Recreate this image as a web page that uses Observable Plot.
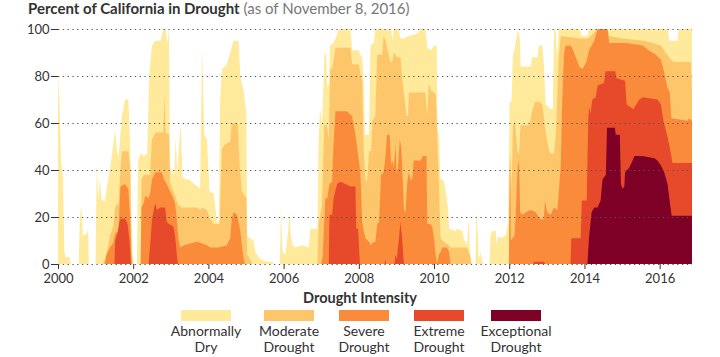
<!DOCTYPE html>
<html><head><meta charset="utf-8">
<script src="https://cdn.jsdelivr.net/npm/d3@7"></script>
<script src="https://cdn.jsdelivr.net/npm/@observablehq/plot@0.6"></script>
<style>
body{margin:0;background:#fff;font-family:Lato,"Noto Sans",sans-serif;color:#333;}
#wrap{position:relative;width:720px;height:357px;overflow:hidden;}
#title{position:absolute;left:28px;top:0;font-size:15px;line-height:17px;white-space:nowrap;}
#title b{font-weight:700;color:#333}
#title span{color:#777;font-weight:400}
#chart{position:absolute;left:0;top:20px;}
#legend{position:absolute;left:0;top:285px;width:720px;height:72px;}
#legend .lt{position:absolute;left:0;width:720px;top:5px;text-align:center;font-size:14.5px;font-weight:700;line-height:16px;color:#333;}
#legend .item{position:absolute;top:25px;width:100px;text-align:center;}
#legend .sw{width:50px;height:11px;margin:0 auto;}
#legend .lab{margin-top:2px;font-size:14px;line-height:16px;color:#333;}
</style></head>
<body><div id="wrap">
<div id="title"><b>Percent of California in Drought</b> <span>(as of November 8, 2016)</span></div>
<div id="chart"></div>
<div id="legend"></div>
</div>
<script>
// ---- data: [decimal year, percent of California] ----
const abnormallyDry = [[2000.00,80],[2000.04,68],[2000.08,44],[2000.13,37],[2000.17,5],[2000.20,3],[2000.30,3],[2000.34,0],
[2000.55,0],[2000.58,19],[2000.62,25],[2000.66,12],[2000.77,13],[2000.80,15],[2000.82,0],
[2001.00,0],[2001.03,43],[2001.07,27],[2001.11,36],[2001.16,27],[2001.25,27],[2001.31,34],[2001.38,40],[2001.47,51],[2001.52,57],[2001.56,49],[2001.61,45],[2001.70,63],[2001.74,66],[2001.78,70],[2001.87,70],[2001.92,50],[2001.97,5],[2002.01,0],
[2002.10,0],[2002.13,44],[2002.19,47],[2002.28,46],[2002.37,47],[2002.43,81],[2002.50,93],[2002.59,95],[2002.73,95],[2002.80,100],[2002.86,100],[2002.91,94],[2002.95,100],[2002.98,41],[2003.09,38],[2003.13,54],[2003.17,38],[2003.26,60],[2003.31,37],[2003.40,36],[2003.49,36],[2003.62,34],[2003.71,33],[2003.78,32],[2003.83,92],[2003.89,55],[2003.96,53],[2004.03,31],[2004.14,30],[2004.18,25],[2004.22,18],[2004.28,18],[2004.31,68],[2004.36,83],[2004.49,85],[2004.58,90],[2004.67,95],[2004.80,95],[2004.85,80],[2004.94,73],[2005.01,64],[2005.03,12],[2005.11,11],[2005.20,10],[2005.25,5],[2005.29,4],[2005.38,2],[2005.56,1],[2005.70,1],[2005.74,0],
[2005.90,0],[2005.93,24],[2005.97,5],[2006.05,4],[2006.12,14],[2006.16,22],[2006.19,12],[2006.24,8],[2006.31,7],[2006.49,8],[2006.67,7],[2006.71,15],[2006.90,15],[2006.93,53],[2006.97,66],[2007.02,59],[2007.06,76],[2007.09,90],[2007.13,89],[2007.16,75],[2007.21,77],[2007.23,93],[2007.33,94],[2007.38,96],[2007.47,100],[2007.78,100],[2007.82,91],[2008.00,91],[2008.04,89],[2008.09,88],[2008.13,78],[2008.16,55],[2008.27,55],[2008.31,93],[2008.40,94],[2008.44,100],[2008.86,100],[2008.89,95],[2008.93,100],[2009.06,100],[2009.11,96],[2009.20,96],[2009.33,97],[2009.55,98],[2009.64,100],[2009.77,100],[2009.82,92],[2009.91,91],[2010.00,93],[2010.07,93],[2010.09,58],[2010.13,55],[2010.17,36],[2010.25,36],[2010.30,32],[2010.37,24],[2010.40,15],[2010.57,14],[2010.62,15],[2010.75,14],[2010.79,11],[2010.88,8],[2010.92,20],[2010.95,5],[2011.00,0],
[2011.10,0],[2011.13,22],[2011.15,18],[2011.19,2],[2011.24,5],[2011.28,1],[2011.33,0],
[2011.48,0],[2011.50,12],[2011.55,14],[2011.64,14],[2011.66,8],[2011.70,12],[2011.77,11],[2011.90,12],[2011.97,17],[2012.01,69],[2012.06,69],[2012.10,89],[2012.15,92],[2012.19,96],[2012.23,100],[2012.28,96],[2012.30,84],[2012.57,84],[2012.61,88],[2012.75,88],[2012.79,93],[2012.88,93],[2012.92,85],[2012.97,68],[2013.04,67],[2013.08,66],[2013.16,66],[2013.19,100],[2013.23,100],[2013.27,88],[2013.32,100],[2013.88,100],[2013.92,97],[2014.08,97],[2014.12,100],[2016.22,100],[2016.25,95],[2016.48,95],[2016.50,100],[2016.86,100]];

const moderateDrought = [[2001.20,0],[2001.25,2],[2001.29,4],[2001.38,12],[2001.47,16],[2001.52,24],[2001.61,26],[2001.66,40],[2001.70,48],[2001.87,48],[2001.92,41],[2001.96,3],[2001.99,0],
[2002.20,0],[2002.22,36],[2002.28,38],[2002.45,38],[2002.50,53],[2002.59,56],[2002.80,56],[2002.83,72],[2002.86,56],[2002.95,55],[2002.98,35],[2003.04,32],[2003.12,29],[2003.20,25],[2003.30,24],[2003.70,24],[2003.78,23],[2003.83,24],[2003.96,23],[2004.05,19],[2004.14,17],[2004.30,17],[2004.36,49],[2004.45,51],[2004.58,52],[2004.62,60],[2004.78,60],[2004.83,42],[2004.89,31],[2005.01,28],[2005.03,4],[2005.11,2],[2005.16,0],
[2006.90,0],[2006.93,17],[2007.02,25],[2007.08,59],[2007.15,59],[2007.20,53],[2007.24,83],[2007.29,83],[2007.38,92],[2007.78,92],[2007.82,85],[2008.00,85],[2008.05,80],[2008.09,78],[2008.13,48],[2008.18,36],[2008.22,35],[2008.27,48],[2008.33,48],[2008.36,61],[2008.44,63],[2008.49,89],[2008.62,89],[2008.66,97],[2008.71,95],[2008.84,86],[2008.89,86],[2008.93,90],[2009.02,88],[2009.11,88],[2009.15,80],[2009.20,72],[2009.27,63],[2009.31,63],[2009.33,73],[2009.77,73],[2009.82,63],[2009.86,77],[2009.91,74],[2010.00,73],[2010.05,72],[2010.08,56],[2010.13,34],[2010.17,11],[2010.26,9.5],[2010.40,8],[2010.44,7],[2010.88,7],[2010.95,4],[2011.00,0],
[2011.99,0],[2012.02,48],[2012.06,31],[2012.10,59],[2012.15,61],[2012.22,48],[2012.26,47],[2012.30,59],[2012.53,59],[2012.61,65],[2012.69,69],[2012.79,69],[2012.88,68],[2012.97,56],[2013.06,48],[2013.10,47],[2013.19,47],[2013.24,55],[2013.28,73],[2013.32,88],[2013.37,97],[2013.90,96],[2014.10,96],[2014.30,99],[2014.39,100],[2014.61,100],[2014.66,97],[2015.00,96],[2015.59,95],[2015.81,94],[2016.03,93],[2016.12,91],[2016.20,89],[2016.30,87],[2016.39,86],[2016.83,86],[2016.86,73]];

const severeDrought = [[2001.24,0],[2001.29,4],[2001.38,7],[2001.47,9],[2001.52,13],[2001.61,14],[2001.66,33],[2001.78,34],[2001.87,32],[2001.92,19],[2001.96,0],
[2002.20,0],[2002.22,24],[2002.28,26],[2002.32,29],[2002.41,28],[2002.46,31],[2002.50,36],[2002.59,39],[2002.76,39],[2002.82,36],[2002.89,34],[2002.98,31],[2003.07,28],[2003.12,25],[2003.16,19],[2003.20,11],[2003.25,7],[2003.35,8],[2003.60,9],[2003.69,9.5],[2003.78,9],[2003.96,8],[2004.05,7],[2004.27,7],[2004.49,8],[2004.58,11],[2004.62,19],[2004.67,22],[2004.76,21],[2004.85,14],[2004.89,8],[2004.94,2],[2004.97,0],
[2007.00,0],[2007.04,3],[2007.07,15],[2007.11,28],[2007.16,28],[2007.22,34],[2007.29,35],[2007.33,52],[2007.38,65],[2007.69,65],[2007.74,64],[2007.82,63],[2007.91,55],[2008.04,39],[2008.09,18],[2008.13,14],[2008.18,11],[2008.27,9.5],[2008.32,8],[2008.36,9],[2008.44,9.5],[2008.49,17],[2008.54,18],[2008.59,38],[2008.66,39],[2008.71,46],[2008.75,55],[2008.82,55],[2008.86,42],[2008.89,44],[2008.93,41],[2008.98,51],[2009.00,39],[2009.04,41],[2009.09,53],[2009.13,49],[2009.17,35],[2009.20,23],[2009.24,22],[2009.29,35],[2009.33,39],[2009.37,36],[2009.42,36],[2009.46,44],[2009.64,44],[2009.70,46],[2009.80,46],[2009.82,17],[2009.90,17],[2009.95,16],[2010.00,11],[2010.04,4],[2010.08,0],[2010.13,4],[2010.17,5],[2010.22,7],[2010.35,7],[2010.40,5],[2010.44,0],
[2011.99,0],[2012.02,46],[2012.04,10],[2012.14,12],[2012.17,20],[2012.22,40],[2012.26,44],[2012.29,22],[2012.35,21],[2012.44,22],[2012.57,23],[2012.70,22],[2012.79,20],[2012.84,19],[2012.92,19],[2012.95,27],[2013.01,22],[2013.10,21],[2013.19,24],[2013.28,23],[2013.32,31],[2013.37,42],[2013.41,70],[2013.46,90],[2013.50,93],[2013.63,93],[2013.70,91],[2013.77,88],[2013.86,84],[2013.95,83],[2014.05,86],[2014.12,91],[2014.26,95],[2014.35,100],[2014.61,100],[2014.66,94],[2015.10,94],[2015.55,93],[2015.70,91],[2015.90,89],[2016.03,87],[2016.10,83],[2016.21,75],[2016.27,73],[2016.31,62],[2016.74,61],[2016.78,62],[2016.86,61]];

const extremeDrought = [[2001.50,0],[2001.52,10],[2001.58,13],[2001.65,19],[2001.78,19.5],[2001.85,17],[2001.90,10],[2001.94,0],
[2002.41,0],[2002.46,10],[2002.50,19],[2002.56,24],[2002.59,26],[2002.63,23],[2002.72,24],[2002.85,24],[2002.89,18],[2002.95,17],[2003.07,16],[2003.12,11],[2003.16,4],[2003.19,0],
[2007.20,0],[2007.22,21],[2007.29,21],[2007.33,28],[2007.42,34],[2007.51,35],[2007.64,34],[2007.78,33],[2007.91,33],[2007.93,15],[2007.98,15],[2008.03,0],
[2008.68,0],[2008.70,2],[2008.72,0],[2008.95,0],[2008.97,4],[2009.01,2],[2009.06,10],[2009.11,18],[2009.15,11],[2009.20,0],
[2012.64,0],[2012.66,1],[2012.93,1],[2012.95,0],
[2013.63,0],[2013.65,11],[2013.90,11],[2013.93,27],[2014.06,27],[2014.10,61],[2014.12,67],[2014.16,64],[2014.21,70],[2014.30,71],[2014.35,76],[2014.52,77],[2014.56,82],[2014.82,82],[2014.85,79],[2015.08,78],[2015.12,68],[2015.20,67],[2015.30,66],[2015.46,70],[2015.55,71],[2015.94,70],[2016.03,68],[2016.10,61],[2016.21,54],[2016.30,47],[2016.34,43],[2016.86,43]];

const exceptionalDrought = [[2014.08,0],[2014.12,11],[2014.19,22],[2014.26,24],[2014.35,24],[2014.43,27],[2014.48,36],[2014.57,38],[2014.60,58],[2014.81,58],[2014.83,55],[2014.94,55],[2014.97,34],[2015.01,32],[2015.06,33],[2015.08,39],[2015.19,41],[2015.28,44],[2015.33,46],[2015.54,46],[2015.86,45],[2015.94,44],[2016.03,42],[2016.12,39],[2016.21,34],[2016.28,25],[2016.32,20.5],[2016.86,20.5]];

const categoryNames = [["Abnormally","Dry"],["Moderate","Drought"],["Severe","Drought"],["Extreme","Drought"],["Exceptional","Drought"]];
const categoryColors = ["#ffe99b","#fec66b","#fa8b3b","#e64a2a","#7f0026"];
const xTicks = [2000,2002,2004,2006,2008,2010,2012,2014,2016];
const yTicks = [0,20,40,60,80,100];

// ---- chart ----
const seriesList = [abnormallyDry, moderateDrought, severeDrought, extremeDrought, exceptionalDrought];
const font = 'Lato, "Noto Sans", sans-serif';
const chart = Plot.plot({
  width: 720, height: 265,
  marginTop: 9, marginBottom: 21, marginLeft: 58, marginRight: 28,
  style: {fontFamily: font, fontSize: "13px", color: "#333", background: "transparent", overflow: "visible"},
  x: {domain: [2000, 2016.86], ticks: xTicks, tickFormat: d => String(d), tickSize: 5, tickPadding: 4, label: null},
  y: {domain: [0, 100], ticks: yTicks, tickSize: 7, tickPadding: 2, label: null},
  marks: [
    ...seriesList.map((s, i) => Plot.areaY(s, {x: d => d[0], y: d => d[1], fill: categoryColors[i], curve: "linear"})),
    Plot.ruleY(yTicks, {stroke: "#555", strokeWidth: 1.1, strokeDasharray: "1.3,3.5"})
  ]
});
document.getElementById("chart").appendChild(chart);

// ---- legend ----
const legendCenters = [206, 289, 364, 439, 516];
const lg = document.getElementById("legend");
const lt = document.createElement("div"); lt.className = "lt"; lt.textContent = "Drought Intensity"; lg.appendChild(lt);
categoryNames.forEach((nm, i) => {
  const it = document.createElement("div"); it.className = "item";
  it.style.left = (legendCenters[i] - 50) + "px";
  const sw = document.createElement("div"); sw.className = "sw"; sw.style.background = categoryColors[i];
  const lab = document.createElement("div"); lab.className = "lab"; lab.innerHTML = nm[0] + "<br>" + nm[1];
  it.appendChild(sw); it.appendChild(lab); lg.appendChild(it);
});
</script>
</body></html>
